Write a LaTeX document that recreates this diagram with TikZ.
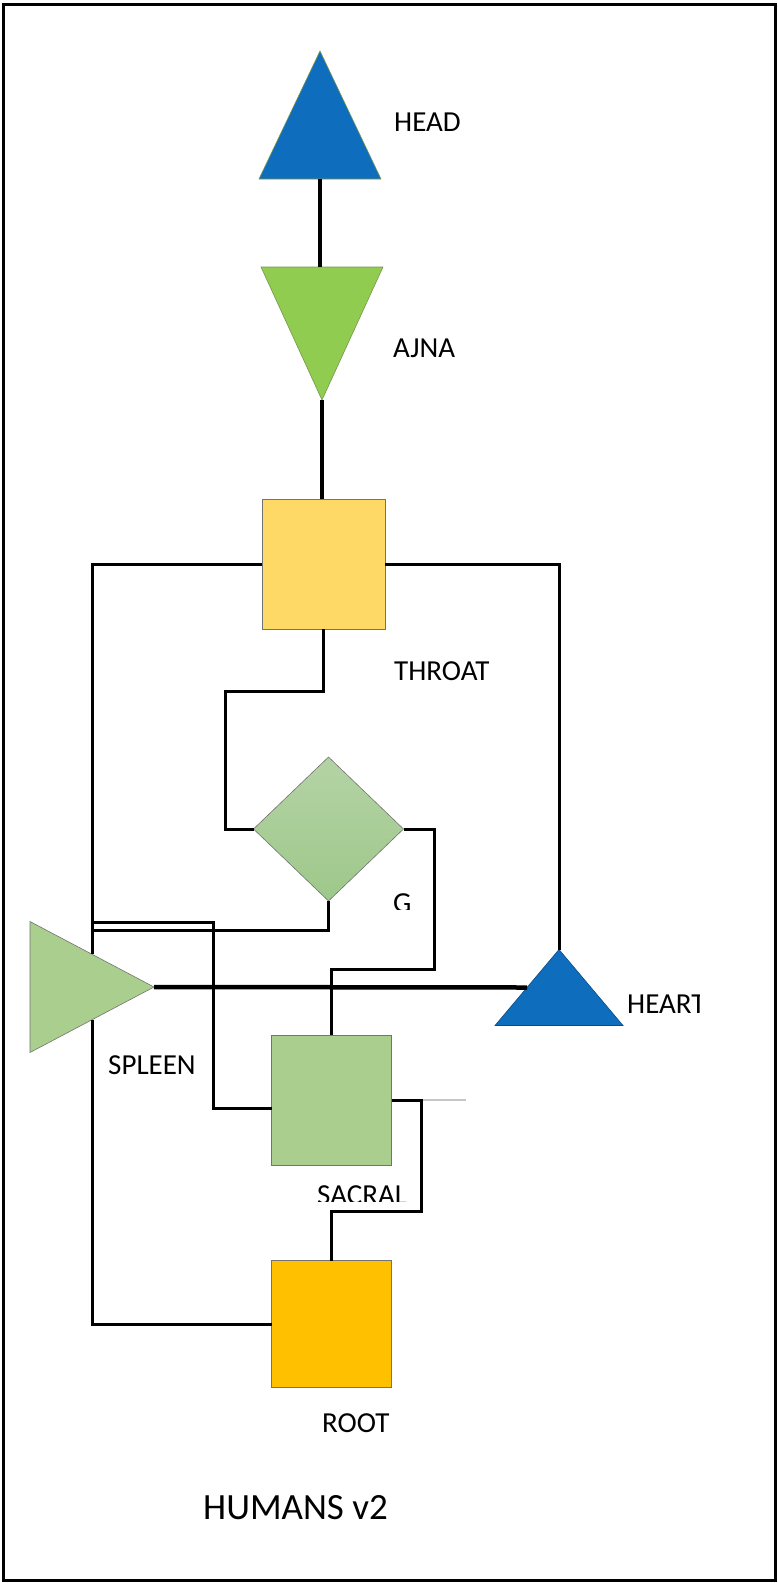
\documentclass[tikz,border=0pt]{standalone}
\usepackage{fontspec}
\setmainfont{Carlito}
\usetikzlibrary{shapes.geometric}
\definecolor{centreblue}{RGB}{15,109,190}
\definecolor{ajnagreen}{RGB}{143,204,80}
\definecolor{throatyellow}{RGB}{255,217,102}
\definecolor{softgreen}{RGB}{169,206,142}
\definecolor{gtop}{RGB}{180,211,165}
\definecolor{gbottom}{RGB}{158,200,138}
\definecolor{rootorange}{RGB}{255,192,0}
\definecolor{edgegreen}{RGB}{120,150,75}
\begin{document}
\begin{tikzpicture}[
    x=1pt, y=-1pt,
    chakra/.style={draw=black!55, line width=0.6pt, inner sep=0pt, outer sep=0pt},
    tri/.style={chakra, isosceles triangle, isosceles triangle stretches},
    box/.style={chakra, rectangle},
    lbl/.style={anchor=west, inner sep=0pt, font=\fontsize{29}{31}\selectfont},
    link/.style={line width=3pt},
    thicklink/.style={line width=4.5pt},
    stub/.style={line width=2pt, black!22}
]
\useasboundingbox (0,0) rectangle (777,1583);
\draw[line width=3pt] (3,4.5) rectangle (775,1580);

% centres
\node[tri, fill=centreblue, draw=edgegreen, shape border rotate=90, minimum width=122pt, minimum height=128pt, anchor=south] (head) at (320,179) {};
\node[tri, fill=ajnagreen, draw=edgegreen, shape border rotate=270, minimum width=122pt, minimum height=133pt, anchor=north] (ajna) at (322,267) {};
\node[box, fill=throatyellow, minimum width=123pt, minimum height=130pt] (throat) at (323.3,564) {};
\node[chakra, diamond, aspect=1.04, top color=gtop, bottom color=gbottom, minimum width=150pt, minimum height=144pt] (g) at (328.5,829) {};
\node[tri, fill=softgreen, minimum width=131pt, minimum height=124pt, anchor=west] (spleen) at (30,987) {};
\node[tri, fill=centreblue, draw=centreblue!70!black, shape border rotate=90, minimum width=128pt, minimum height=76pt, anchor=south] (heart) at (559,1025.5) {};
\node[box, fill=softgreen, minimum width=120pt, minimum height=130pt] (sacral) at (331.5,1100) {};
\node[box, fill=rootorange, minimum width=120pt, minimum height=127pt] (root) at (331.5,1324) {};

% labels
\node[lbl] (headlbl) at (394,122) {HEAD};
\node[lbl] (ajnalbl) at (393,348) {AJNA};
\node[lbl] (throatlbl) at (394,671) {THROAT};
\begin{scope}
\clip (380,880) rectangle (440,909);
\node[lbl] (glbl) at (393,903.5) {G};
\end{scope}
\node[lbl] (spleenlbl) at (108,1065) {SPLEEN};
\begin{scope}
\clip (620,980) rectangle (699.5,1030);
\node[lbl] (heartlbl) at (627,1004.5) {HEART};
\end{scope}
\begin{scope}
\clip (300,1180) rectangle (420,1201.5);
\node[lbl] (sacrallbl) at (317,1195) {SACRAL};
\end{scope}
\node[lbl] (rootlbl) at (322,1423) {ROOT};
\node[lbl, font=\fontsize{37}{40}\selectfont] (title) at (203,1508) {HUMANS v2};

% channels
\coordinate (lane) at (spleen.left side);
\coordinate (stubend) at (466,1100);
\draw[thicklink] (head.south) -- (head.south |- ajna.north);
\draw[thicklink] (ajna.apex) -- (ajna.apex |- throat.north);
\draw[link] (throat.west) -| (lane);
\draw[link] (throat.east) -| (heart.apex);
\draw[link] (throat.south) -- ++(0,62) -| ([xshift=-28pt]g.west) -- (g.west);
\draw[link] (g.east) -- ++(31,0) |- ([yshift=66pt]sacral.north) -- (sacral.north);
\draw[link] (g.south) -- ++(0,29) coordinate (gbend) -- (gbend -| lane);
\draw[link] ([yshift=-8pt]sacral.west) -| ++(-58,-186) coordinate (sbend) -- (sbend -| lane);
\draw[thicklink] (spleen.apex) -- (heart.left side);
\draw[link] (spleen.right side) |- (root.west);
\draw[stub] ([xshift=30pt]sacral.east) -- (stubend);
\draw[link] (sacral.east) -- ++(30,0) |- ([yshift=49pt]root.north) -- (root.north);
\end{tikzpicture}
\end{document}
